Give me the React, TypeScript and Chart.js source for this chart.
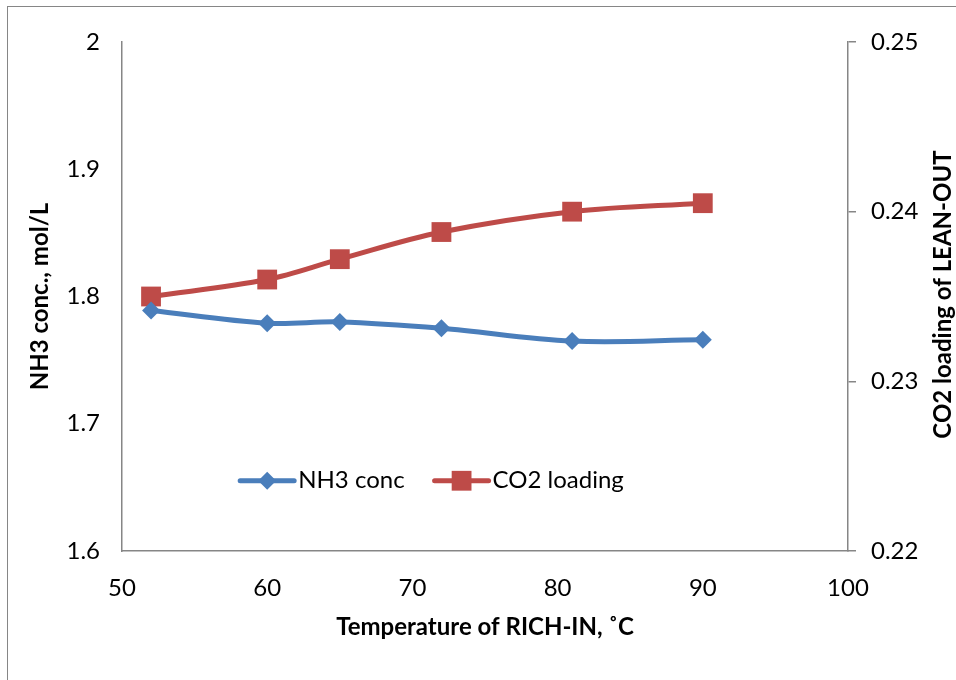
import React, { useEffect, useRef } from "react";
import { Chart, registerables } from "chart.js";

Chart.register(...registerables);

const temperatures = [52, 60, 65, 72, 81, 90];
const nh3Conc = [1.789, 1.779, 1.780, 1.775, 1.765, 1.766];
const co2Loading = [0.235, 0.236, 0.2372, 0.2388, 0.24, 0.2405];
const seriesLabels = ["NH3 conc", "CO2 loading"];
const xTitle = "Temperature of RICH-IN, \u02DAC";
const yLeftTitle = "NH3 conc., mol/L";
const yRightTitle = "CO2 loading of LEAN-OUT";

const FONT = "Lato, 'Open Sans', sans-serif";
const AXIS = "#868686";
const BLUE = "#4A7EBB";
const RED = "#BE4B48";
const TICK_SIZE = 24;
const TITLE_SIZE = 24;

const legendPlugin = {
  id: "innerLegend",
  afterDatasetsDraw(chart: any) {
    const { ctx, chartArea } = chart;
    ctx.save();
    ctx.font = `${TICK_SIZE}px ${FONT}`;
    ctx.textBaseline = "middle";
    ctx.fillStyle = "#000";
    const lineLen = 54;
    const gapText = 4;
    const gapItems = 30;
    const items = chart.data.datasets.map((d: any) => ({
      label: d.label,
      color: d.borderColor,
      style: d.pointStyle,
      radius: d.pointRadius,
      w: ctx.measureText(d.label).width,
    }));
    const total = items.reduce((s: number, it: any) => s + lineLen + gapText + it.w, 0) + gapItems * (items.length - 1);
    const cx = chartArea.left + (chartArea.right - chartArea.left) * 0.427;
    const y = chartArea.top + (chartArea.bottom - chartArea.top) * 0.862;
    let x = cx - total / 2;
    for (const it of items) {
      ctx.strokeStyle = it.color;
      ctx.lineWidth = 5;
      ctx.lineCap = "round";
      ctx.beginPath();
      ctx.moveTo(x, y);
      ctx.lineTo(x + lineLen, y);
      ctx.stroke();
      ctx.fillStyle = it.color;
      const mx = x + lineLen / 2;
      ctx.beginPath();
      if (it.style === "rectRot") {
        const r = it.radius;
        ctx.moveTo(mx, y - r);
        ctx.lineTo(mx + r, y);
        ctx.lineTo(mx, y + r);
        ctx.lineTo(mx - r, y);
        ctx.closePath();
      } else {
        const s = it.radius * Math.SQRT1_2;
        ctx.rect(mx - s, y - s, 2 * s, 2 * s);
      }
      ctx.fill();
      ctx.fillStyle = "#000";
      ctx.fillText(it.label, x + lineLen + gapText, y);
      x += lineLen + gapText + it.w + gapItems;
    }
    ctx.restore();
  },
};

const rightTitlePlugin = {
  id: "rightTitle",
  afterDraw(chart: any) {
    const { ctx, chartArea } = chart;
    const sc = chart.scales.y1;
    ctx.save();
    ctx.font = `bold ${TITLE_SIZE}px ${FONT}`;
    ctx.fillStyle = "#000";
    ctx.textAlign = "center";
    ctx.textBaseline = "middle";
    ctx.translate(sc.right - 13, (chartArea.top + chartArea.bottom) / 2 - 2);
    ctx.rotate(-Math.PI / 2);
    ctx.fillText(yRightTitle, 0, 0);
    ctx.restore();
  },
};

const fmt = (v: any) => String(Number(Number(v).toFixed(3)));

export default function App() {
  const ref = useRef<HTMLCanvasElement | null>(null);
  useEffect(() => {
    if (!ref.current) return;
    const chart = new Chart(ref.current, {
      type: "line",
      data: {
        datasets: [
          {
            label: seriesLabels[0],
            data: temperatures.map((t, i) => ({ x: t, y: nh3Conc[i] })),
            borderColor: BLUE,
            backgroundColor: BLUE,
            borderWidth: 5,
            pointStyle: "rectRot",
            pointRadius: 9,
            pointBorderWidth: 0,
            tension: 0.35,
            yAxisID: "y",
          },
          {
            label: seriesLabels[1],
            data: temperatures.map((t, i) => ({ x: t, y: co2Loading[i] })),
            borderColor: RED,
            backgroundColor: RED,
            borderWidth: 5,
            pointStyle: "rect",
            pointRadius: 14,
            pointBorderWidth: 0,
            tension: 0.35,
            yAxisID: "y1",
          },
        ],
      },
      options: {
        animation: false,
        responsive: false,
        maintainAspectRatio: false,
        layout: { padding: { top: 42, left: 0, right: 0, bottom: 0 } },
        plugins: { legend: { display: false }, tooltip: { enabled: false } },
        scales: {
          x: {
            type: "linear",
            min: 50,
            max: 100,
            ticks: { stepSize: 10, color: "#000", font: { family: FONT, size: TICK_SIZE }, padding: 23, callback: fmt },
            grid: { display: false, drawTicks: false },
            border: { display: true, color: AXIS, width: 1.5 },
            title: {
              display: true,
              text: xTitle,
              color: "#000",
              font: { family: FONT, size: TITLE_SIZE, weight: "bold" },
              padding: { top: 0, bottom: 38 },
            },
            afterFit: (s: any) => { s.height = 129; },
          },
          y: {
            type: "linear",
            position: "left",
            min: 1.6,
            max: 2,
            ticks: { stepSize: 0.1, color: "#000", font: { family: FONT, size: TICK_SIZE }, padding: 22, callback: fmt },
            grid: { display: false, drawTicks: false },
            border: { display: true, color: AXIS, width: 1.5 },
            title: {
              display: true,
              text: yLeftTitle,
              color: "#000",
              font: { family: FONT, size: TITLE_SIZE, weight: "bold" },
              padding: { top: 26, bottom: 0 },
            },
            afterFit: (s: any) => { s.width = 122; },
          },
          y1: {
            type: "linear",
            position: "right",
            min: 0.22,
            max: 0.25,
            ticks: { stepSize: 0.01, color: "#000", font: { family: FONT, size: TICK_SIZE }, padding: 15, callback: fmt },
            grid: { display: true, drawOnChartArea: false, drawTicks: true, tickLength: 8, color: AXIS, lineWidth: 1.5 },
            border: { display: true, color: AXIS, width: 1.5 },
            title: { display: false },
            afterFit: (s: any) => { s.width = 108; },
          },
        },
      },
      plugins: [legendPlugin, rightTitlePlugin],
    });
    return () => chart.destroy();
  }, []);
  return (
    <div style={{ position: "fixed", left: 0, top: 0, width: 956, height: 680, overflow: "hidden", background: "#fff" }}>
      <div
        style={{
          position: "absolute",
          left: 7,
          top: 6,
          width: 1000,
          height: 1000,
          borderLeft: "1.5px solid #868686",
          borderTop: "1.5px solid #868686",
        }}
      />
      <canvas ref={ref} width={956} height={680} style={{ position: "absolute", left: 0, top: 0 }} />
    </div>
  );
}
